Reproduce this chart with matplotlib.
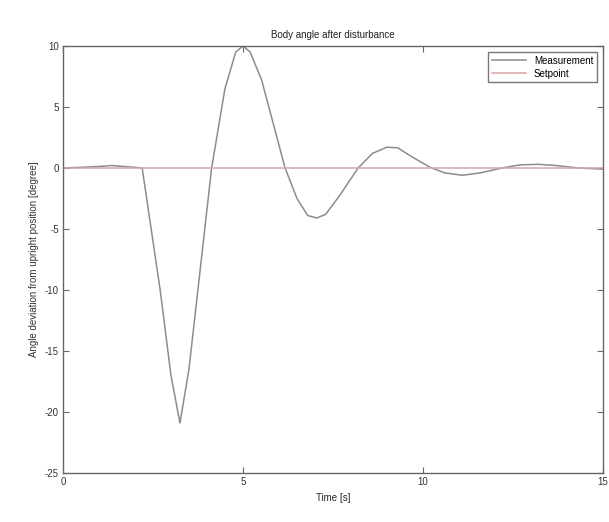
import matplotlib
matplotlib.use("Agg")
import matplotlib.pyplot as plt

plt.rcParams['font.family'] = ['Liberation Sans', 'DejaVu Sans']
plt.rcParams['axes.unicode_minus'] = False

time_s = [0.0, 0.5, 1.0, 1.35, 1.7, 2.0, 2.2, 2.7, 3.0, 3.25, 3.5, 4.13, 4.5, 4.8,
          5.0, 5.2, 5.52, 5.89, 6.17, 6.5, 6.8, 7.05, 7.3, 7.7, 8.2, 8.6, 9.0, 9.3,
          9.7, 10.2, 10.6, 11.1, 11.6, 12.2, 12.7, 13.2, 13.7, 14.3, 15.0]
measurement = [0.0, 0.05, 0.12, 0.2, 0.12, 0.05, 0.0, -10.0, -17.0, -20.9, -16.5, 0.0, 6.5, 9.5,
               10.0, 9.5, 7.2, 3.1, 0.0, -2.5, -3.9, -4.1, -3.8, -2.2, 0.0, 1.2, 1.7, 1.65,
               0.9, 0.05, -0.4, -0.6, -0.4, 0.0, 0.25, 0.3, 0.2, 0.0, -0.1]
setpoint_t = [0.0, 15.0]
setpoint_v = [0.0, 0.0]

x_ticks = [0, 5, 10, 15]
y_ticks = [10, 5, 0, -5, -10, -15, -20, -25]

fig = plt.figure(figsize=(6.09, 5.22), dpi=100)
ax = fig.add_axes([0.1034, 0.0939, 0.8866, 0.8181])

ax.plot(time_s, measurement, color='#8c8c8c', lw=1.1, label='Measurement')
ax.plot(setpoint_t, setpoint_v, color='#dba5a5', lw=1.1, label='Setpoint')

ax.set_xlim(0, 15)
ax.set_ylim(-25, 10)
ax.set_xticks(x_ticks)
ax.set_yticks(y_ticks)
ax.tick_params(direction='in', top=True, right=True, labelsize=7, length=4,
               color='#666666', labelcolor='#333333', pad=3)
for s in ax.spines.values():
    s.set_color('#666666')
    s.set_linewidth(1.0)

ax.set_title('Body angle after disturbance', fontsize=7, color='#222222', pad=6)
ax.set_xlabel('Time [s]', fontsize=7, color='#222222', labelpad=4)
ax.set_ylabel('Angle deviation from upright position [degree]', fontsize=7,
              color='#333333', labelpad=4)

leg = ax.legend(loc='upper right', fontsize=7, frameon=True, fancybox=False,
                edgecolor='#555555', handlelength=3.5, borderaxespad=0.6,
                borderpad=0.4, labelspacing=0.3)
leg.get_frame().set_linewidth(1.0)

fig.savefig('out.png', dpi=100)
